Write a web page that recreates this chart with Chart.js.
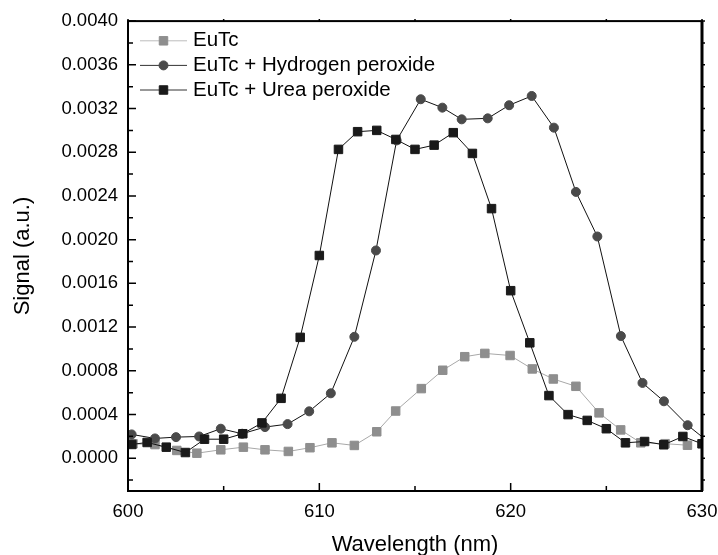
<!DOCTYPE html>
<html>
<head>
<meta charset="utf-8">
<script src="https://cdn.jsdelivr.net/npm/chart.js@4.4.1/dist/chart.umd.min.js"></script>
<style>
  html, body { margin: 0; padding: 0; background: #fff; }
  #caixa { width: 718px; height: 555px; }
</style>
</head>
<body>
<div id="caixa"><canvas id="graficoEspectro" width="718" height="555"></canvas></div>
<script>
// Valores (comprimento de onda em nm, sinal em u.a.)
const ondaEuTc = [600.26, 601.41, 602.55, 603.6, 604.85, 606.03, 607.16, 608.38, 609.51, 610.66,
  611.83, 613.0, 613.99, 615.33, 616.45, 617.6, 618.65, 619.97, 621.13, 622.23,
  623.41, 624.62, 625.75, 626.8, 628.07, 629.24];
const sinalEuTc = [0.000132, 0.000125, 0.000071, 0.000046, 0.000077, 0.000101, 0.000077, 0.000062, 0.000096, 0.000141,
  0.000117, 0.000242, 0.000432, 0.000637, 0.000805, 0.000929, 0.000959, 0.00094, 0.000817, 0.000725,
  0.000658, 0.000415, 0.000259, 0.000141, 0.000133, 0.000119];

const ondaPeroxHidrogenio = [600.19, 601.41, 602.51, 603.72, 604.85, 605.97, 607.16, 608.34, 609.47, 610.6,
  611.83, 612.96, 614.04, 615.3, 616.43, 617.44, 618.8, 619.92, 621.1, 622.26,
  623.41, 624.53, 625.76, 626.89, 628.01, 629.25, 630.4];
const sinalPeroxHidrogenio = [0.000218, 0.000181, 0.000193, 0.000199, 0.00027, 0.000224, 0.000285, 0.000312, 0.000429, 0.000594,
  0.001111, 0.001901, 0.002908, 0.003285, 0.003208, 0.003101, 0.00311, 0.00323, 0.003315, 0.003025,
  0.002437, 0.002029, 0.001118, 0.000689, 0.000521, 0.000302, 0.00014];

const ondaPeroxUreia = [600.2, 601, 602, 603, 604, 605, 606, 607, 608, 609,
  610, 611, 612, 613, 614, 615, 616, 617, 618, 619,
  620, 621, 622, 623, 624, 625, 626, 627, 628, 629, 630];
const sinalPeroxUreia = [0.000126, 0.000144, 0.000101, 0.000052, 0.000174, 0.000174, 0.000224, 0.000323, 0.000548, 0.001106,
  0.001855, 0.002826, 0.002988, 0.003, 0.002917, 0.002826, 0.002865, 0.002979, 0.002789, 0.002284,
  0.001533, 0.001056, 0.000573, 0.000399, 0.000346, 0.00027, 0.000141, 0.000153, 0.000123, 0.000199, 0.000132];

const nomesSeries = ['EuTc', 'EuTc + Hydrogen peroxide', 'EuTc + Urea peroxide'];

// Marcas dos eixos
const ticksX = [600, 610, 620, 630];
const ticksXMenores = [605, 615, 625];
const ticksY = [0, 0.0004, 0.0008, 0.0012, 0.0016, 0.002, 0.0024, 0.0028, 0.0032, 0.0036, 0.004];
const ticksYMenores = [-0.0002, 0.0002, 0.0006, 0.001, 0.0014, 0.0018, 0.0022, 0.0026, 0.003, 0.0034, 0.0038];

const FONTE = '"Liberation Sans", Arial, sans-serif';

function juntarPontos(xs, ys) {
    return xs.map((x, i) => ({ x: x, y: ys[i] }));
}

// Desenha um marcador igual ao dos pontos (usado na legenda)
function desenharMarcador(ctx, ds, x, y) {
    ctx.fillStyle = ds.pointBackgroundColor;
    ctx.strokeStyle = ds.pointBorderColor;
    ctx.lineWidth = ds.pointBorderWidth;
    if (ds.pointStyle === 'rect') {
        const meio = ds.pointRadius * Math.SQRT1_2;
        ctx.beginPath();
        ctx.rect(x - meio, y - meio, meio * 2, meio * 2);
        ctx.fill();
        ctx.stroke();
    } else {
        ctx.beginPath();
        ctx.arc(x, y, ds.pointRadius, 0, Math.PI * 2);
        ctx.fill();
        ctx.stroke();
    }
}

// Moldura e marcas dos eixos (para dentro embaixo/esquerda, curtas em cima/direita)
const molduraEixos = {
    id: 'molduraEixos',
    afterDraw(chart) {
        const ctx = chart.ctx;
        const a = chart.chartArea;
        const sx = chart.scales.x;
        const sy = chart.scales.y;
        ctx.save();
        ctx.strokeStyle = '#000';
        ctx.lineWidth = 2;
        ctx.strokeRect(a.left, a.top, a.right - a.left, a.bottom - a.top);
        // lado direito um pouco mais grosso, como no original
        ctx.lineWidth = 3;
        ctx.beginPath();
        ctx.moveTo(a.right, a.top);
        ctx.lineTo(a.right, a.bottom);
        ctx.stroke();

        ctx.lineWidth = 1.5;
        ctx.beginPath();
        ticksX.concat(ticksXMenores).forEach(v => {
            const px = sx.getPixelForValue(v);
            const tam = ticksX.includes(v) ? 8 : 5;
            ctx.moveTo(px, a.bottom);
            ctx.lineTo(px, a.bottom - tam);
            ctx.moveTo(px, a.top);
            ctx.lineTo(px, a.top - 2);
        });
        ticksY.concat(ticksYMenores).forEach(v => {
            const py = sy.getPixelForValue(v);
            const tam = ticksY.includes(v) ? 8 : 5;
            ctx.moveTo(a.left, py);
            ctx.lineTo(a.left + tam, py);
            ctx.moveTo(a.right, py);
            ctx.lineTo(a.right + 3, py);
        });
        ctx.stroke();
        ctx.restore();
    }
};

// Legenda dentro da área do gráfico, com linha + marcador
const legendaInterna = {
    id: 'legendaInterna',
    afterDraw(chart) {
        const ctx = chart.ctx;
        const a = chart.chartArea;
        chart.data.datasets.forEach((ds, i) => {
            const y = a.top + 19.7 + i * 24.6;
            const x0 = a.left + 12;
            ctx.save();
            ctx.strokeStyle = i === 0 ? '#bdbdbd' : '#333';
            ctx.lineWidth = 1;
            ctx.beginPath();
            ctx.moveTo(x0, y);
            ctx.lineTo(x0 + 47, y);
            ctx.stroke();
            desenharMarcador(ctx, ds, x0 + 23.5, y);
            ctx.fillStyle = '#000';
            ctx.font = '20.5px ' + FONTE;
            ctx.textBaseline = 'middle';
            ctx.fillText(ds.label, x0 + 53, y);
            ctx.restore();
        });
    }
};

window.onload = function() {
    const ctx = document.getElementById('graficoEspectro').getContext('2d');

    new Chart(ctx, {
        type: 'line',
        data: {
            datasets: [{
                label: nomesSeries[0],
                data: juntarPontos(ondaEuTc, sinalEuTc),
                borderColor: '#a8a8a8',
                borderWidth: 1,
                pointStyle: 'rect',
                pointRadius: 6,
                pointBackgroundColor: '#8e8e8e',
                pointBorderColor: '#8e8e8e',
                pointBorderWidth: 1,
                order: 3
            }, {
                label: nomesSeries[1],
                data: juntarPontos(ondaPeroxHidrogenio, sinalPeroxHidrogenio),
                borderColor: '#111',
                borderWidth: 1,
                pointStyle: 'circle',
                pointRadius: 4.5,
                pointBackgroundColor: '#4a4a4a',
                pointBorderColor: '#4a4a4a',
                pointBorderWidth: 1,
                order: 2
            }, {
                label: nomesSeries[2],
                data: juntarPontos(ondaPeroxUreia, sinalPeroxUreia),
                borderColor: '#111',
                borderWidth: 1,
                pointStyle: 'rect',
                pointRadius: 6,
                pointBackgroundColor: '#1a1a1a',
                pointBorderColor: '#1a1a1a',
                pointBorderWidth: 1,
                order: 1
            }]
        },
        options: {
            responsive: false,
            animation: false,
            layout: { padding: { top: 21, right: 16, left: 0, bottom: 0 } },
            plugins: { legend: { display: false }, tooltip: { enabled: false } },
            elements: { line: { tension: 0 } },
            scales: {
                x: {
                    type: 'linear',
                    min: 600,
                    max: 630,
                    grid: { display: false, drawTicks: false },
                    border: { display: false },
                    afterBuildTicks: (s) => { s.ticks = ticksX.map(v => ({ value: v })); },
                    afterFit: (s) => {
                        s.height = 64;
                        s.paddingLeft = 0;
                        s.paddingRight = 0;
                    },
                    ticks: {
                        color: '#000',
                        padding: 10,
                        maxRotation: 0,
                        autoSkip: false,
                        font: { family: FONTE, size: 18.5 },
                        callback: (v) => String(v)
                    },
                    title: {
                        display: true,
                        text: 'Wavelength (nm)',
                        color: '#000',
                        font: { family: FONTE, size: 22 },
                        padding: { top: 0, bottom: -3.5 }
                    }
                },
                y: {
                    type: 'linear',
                    min: -0.0003,
                    max: 0.004,
                    grid: { display: false, drawTicks: false },
                    border: { display: false },
                    afterBuildTicks: (s) => { s.ticks = ticksY.map(v => ({ value: v })); },
                    afterFit: (s) => { s.width = 128; },
                    ticks: {
                        color: '#000',
                        padding: 10,
                        autoSkip: false,
                        font: { family: FONTE, size: 18.5 },
                        callback: (v) => Number(v).toFixed(4)
                    },
                    title: {
                        display: true,
                        text: 'Signal (a.u.)',
                        color: '#000',
                        font: { family: FONTE, size: 22 },
                        padding: { top: 10, bottom: 0 }
                    }
                }
            }
        },
        plugins: [molduraEixos, legendaInterna]
    });
};
</script>
</body>
</html>
